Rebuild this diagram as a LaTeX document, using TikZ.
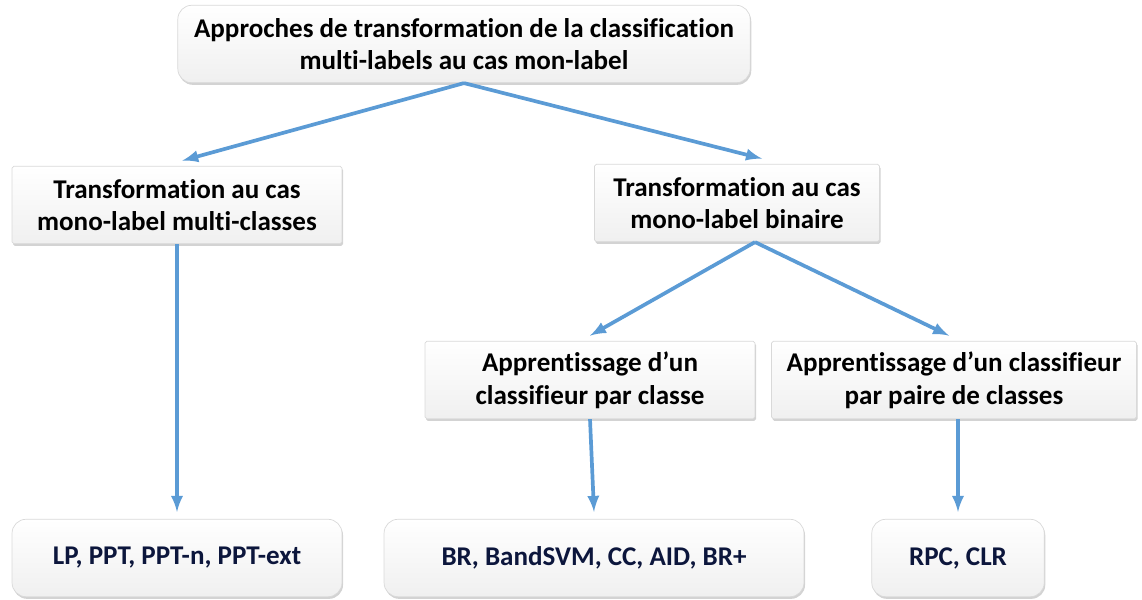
\documentclass[tikz,border=0pt]{standalone}
\usepackage{fontspec}
\setmainfont[Ligatures=NoCommon]{Carlito}
\usetikzlibrary{arrows,shadows}

\begin{document}
\begin{tikzpicture}[x=0.02cm,y=-0.02cm]
			\tikzstyle{box}=[draw=gray!30,shading=axis,top color=white,bottom color=gray!12,drop shadow={opacity=0.35,shadow xshift=0.6pt,shadow yshift=-1.2pt},align=center,font=\fontsize{15.4}{18.6}\selectfont\bfseries,inner sep=0pt,minimum height=1.55cm]
			\tikzstyle{round box}=[box,rounded corners=8pt]
			\tikzstyle{bevel box}=[box,rounded corners=1pt]
			\tikzstyle{leaf box}=[round box,text={rgb,255:red,12;green,22;blue,60}]
			\tikzstyle{link}=[draw,line width=2.1pt,-latex,color={rgb,255:red,91;green,155;blue,213}]

			\useasboundingbox (0,0) rectangle (1142,599);

			\node[round box,minimum width=11.45cm] (root) at (464,44) {Approches de transformation de la classification\\multi-labels au cas mon-label};
			\node[bevel box,minimum width=6.6cm] (multi) at (177,205) {Transformation au cas\\mono-label multi-classes};
			\node[bevel box,minimum width=5.7cm] (bin) at (737,203) {Transformation au cas\\mono-label binaire};
			\node[bevel box,minimum width=6.6cm] (perclass) at (590,380) {Apprentissage d’un\\classifieur par classe};
			\node[bevel box,minimum width=7.3cm] (pair) at (954,380) {Apprentissage d’un classifieur\\par paire de classes};
			\node[leaf box,minimum width=6.6cm] (lp) at (177,558) {LP, PPT, PPT-n, PPT-ext};
			\node[leaf box,minimum width=8.4cm] (br) at (594,558) {BR, BandSVM, CC, AID, BR+};
			\node[leaf box,minimum width=3.45cm] (rpc) at (958,558) {RPC, CLR};

			\draw[link] (root.south) -- ([xshift=3pt,yshift=3pt]multi.north);
			\draw[link] (root.south) -- ([xshift=0.5cm,yshift=3pt]bin.north);
			\draw[link] (multi.south) -- ([yshift=4pt]lp.north);
			\draw[link] ([xshift=0.36cm]bin.south) -- ([yshift=3pt]perclass.north);
			\draw[link] ([xshift=0.36cm]bin.south) -- ([xshift=-0.1cm,yshift=3pt]pair.north);
			\draw[link] (perclass.south) -- ([yshift=4pt]br.north);
			\draw[link] ([xshift=0.08cm]pair.south) -- ([yshift=4pt]rpc.north);
		\end{tikzpicture}
\end{document}
